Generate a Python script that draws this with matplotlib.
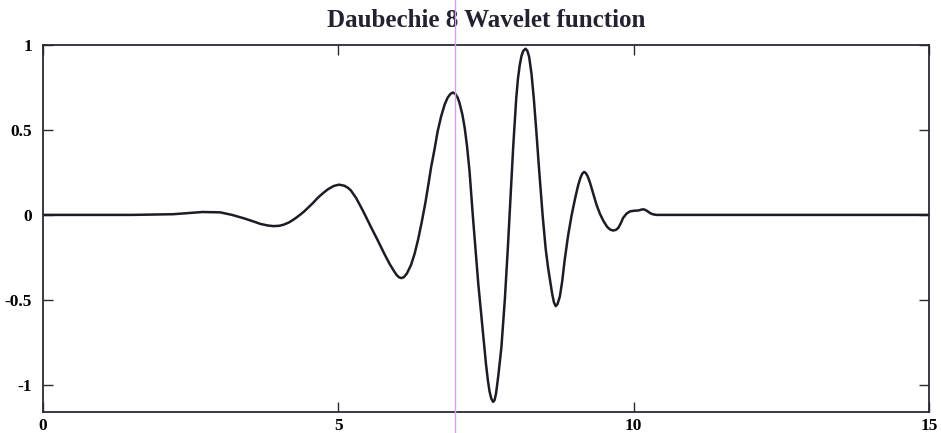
import matplotlib
matplotlib.use('Agg')
import matplotlib.pyplot as plt
from matplotlib.lines import Line2D

# valores
t = [0.0, 1.5, 2.2, 2.5, 2.7, 3.0, 3.2, 3.4, 3.55, 3.68, 3.8, 3.9, 4.0, 4.07,
     4.16, 4.24, 4.30, 4.36, 4.42, 4.48, 4.57, 4.65, 4.74, 4.82, 4.92, 5.01,
     5.10, 5.16, 5.21, 5.30, 5.40, 5.48, 5.55, 5.66, 5.78, 5.87, 5.95, 5.99,
     6.03, 6.07, 6.11, 6.16, 6.23, 6.29, 6.35, 6.41, 6.47, 6.52, 6.57, 6.63,
     6.68, 6.74, 6.80, 6.85, 6.90, 6.94, 6.98, 7.02, 7.05, 7.10, 7.14, 7.18,
     7.22, 7.25, 7.28, 7.33, 7.37, 7.42, 7.46, 7.50, 7.53, 7.56, 7.59, 7.62,
     7.645, 7.67, 7.71, 7.76, 7.82, 7.87, 7.91, 7.96, 8.01, 8.04, 8.07, 8.10,
     8.13, 8.17, 8.20, 8.23, 8.27, 8.31, 8.35, 8.40, 8.46, 8.51, 8.55, 8.59,
     8.62, 8.65, 8.68, 8.71, 8.75, 8.79, 8.83, 8.89, 8.95, 9.01, 9.06, 9.10,
     9.13, 9.16, 9.19, 9.22, 9.26, 9.31, 9.37, 9.43, 9.49, 9.55, 9.60, 9.65,
     9.70, 9.74, 9.78, 9.82, 9.88, 9.94, 10.02, 10.08, 10.13, 10.16, 10.20,
     10.24, 10.28, 10.33, 10.39, 15.0]
psi = [0.0, 0.0, 0.004, 0.012, 0.017, 0.015, 0.0, -0.02, -0.037, -0.053,
       -0.062, -0.066, -0.064, -0.058, -0.045, -0.028, -0.013, 0.003, 0.02,
       0.04, 0.07, 0.10, 0.128, 0.15, 0.17, 0.178, 0.172, 0.16, 0.145, 0.10,
       0.035, -0.02, -0.07, -0.145, -0.23, -0.29, -0.335, -0.355, -0.368,
       -0.372, -0.366, -0.345, -0.295, -0.23, -0.145, -0.045, 0.065, 0.17, 0.28,
       0.39, 0.49, 0.58, 0.65, 0.69, 0.713, 0.72, 0.712, 0.69, 0.66, 0.59, 0.51,
       0.40, 0.26, 0.12, -0.02, -0.24, -0.41, -0.59, -0.74, -0.88, -0.97, -1.04,
       -1.082, -1.10, -1.09, -1.05, -0.94, -0.78, -0.49, -0.19, 0.07, 0.40,
       0.68, 0.80, 0.88, 0.935, 0.965, 0.978, 0.965, 0.93, 0.83, 0.68, 0.50,
       0.26, -0.01, -0.20, -0.31, -0.40, -0.465, -0.515, -0.537, -0.525,
       -0.48, -0.39, -0.27, -0.12, 0.0, 0.10, 0.175, 0.22, 0.243, 0.253,
       0.246, 0.228, 0.19, 0.13, 0.06, 0.005, -0.037, -0.07, -0.086, -0.092,
       -0.088, -0.076, -0.05, -0.018, 0.008, 0.021, 0.025, 0.026, 0.031,
       0.033, 0.029, 0.02, 0.01, 0.003, 0.0, 0.0]

xticks = [0, 5, 10, 15]
yticks = [-1, -0.5, 0, 0.5, 1]
ylabels = ['-1', '-0.5', '0', '0.5', '1']

plt.rcParams['font.family'] = ['Liberation Serif', 'DejaVu Serif']

fig = plt.figure(figsize=(9.41, 4.33), dpi=100)
ax = fig.add_axes([0.0457, 0.0485, 0.9416, 0.8476])

ax.plot(t, psi, color='#1c1c26', linewidth=1.8, solid_joinstyle='round')

ax.set_xlim(0, 15)
ax.set_ylim(-1.16, 1)
ax.set_xticks(xticks)
ax.set_xticklabels([str(v) for v in xticks], fontweight='bold', fontsize=12.5)
ax.set_yticks(yticks)
ax.set_yticklabels(ylabels, fontweight='bold', fontsize=12.5)
ax.tick_params(direction='in', top=True, right=True, length=7, width=1.0,
               color='#2a2a35')
ax.tick_params(axis='y', pad=8)
ax.tick_params(axis='x', pad=4)
for s in ax.spines.values():
    s.set_color('#2a2a35')
    s.set_linewidth(1.3)

ax.set_title('Daubechie 8 Wavelet function', fontsize=18, fontweight='bold',
             color='#222230', pad=13)

# linea rosada del escaneo
fig.add_artist(Line2D([455 / 941, 455 / 941], [0, 1], transform=fig.transFigure,
                      color='#d9a0ea', linewidth=1.0))

fig.savefig('out.png', dpi=100)
